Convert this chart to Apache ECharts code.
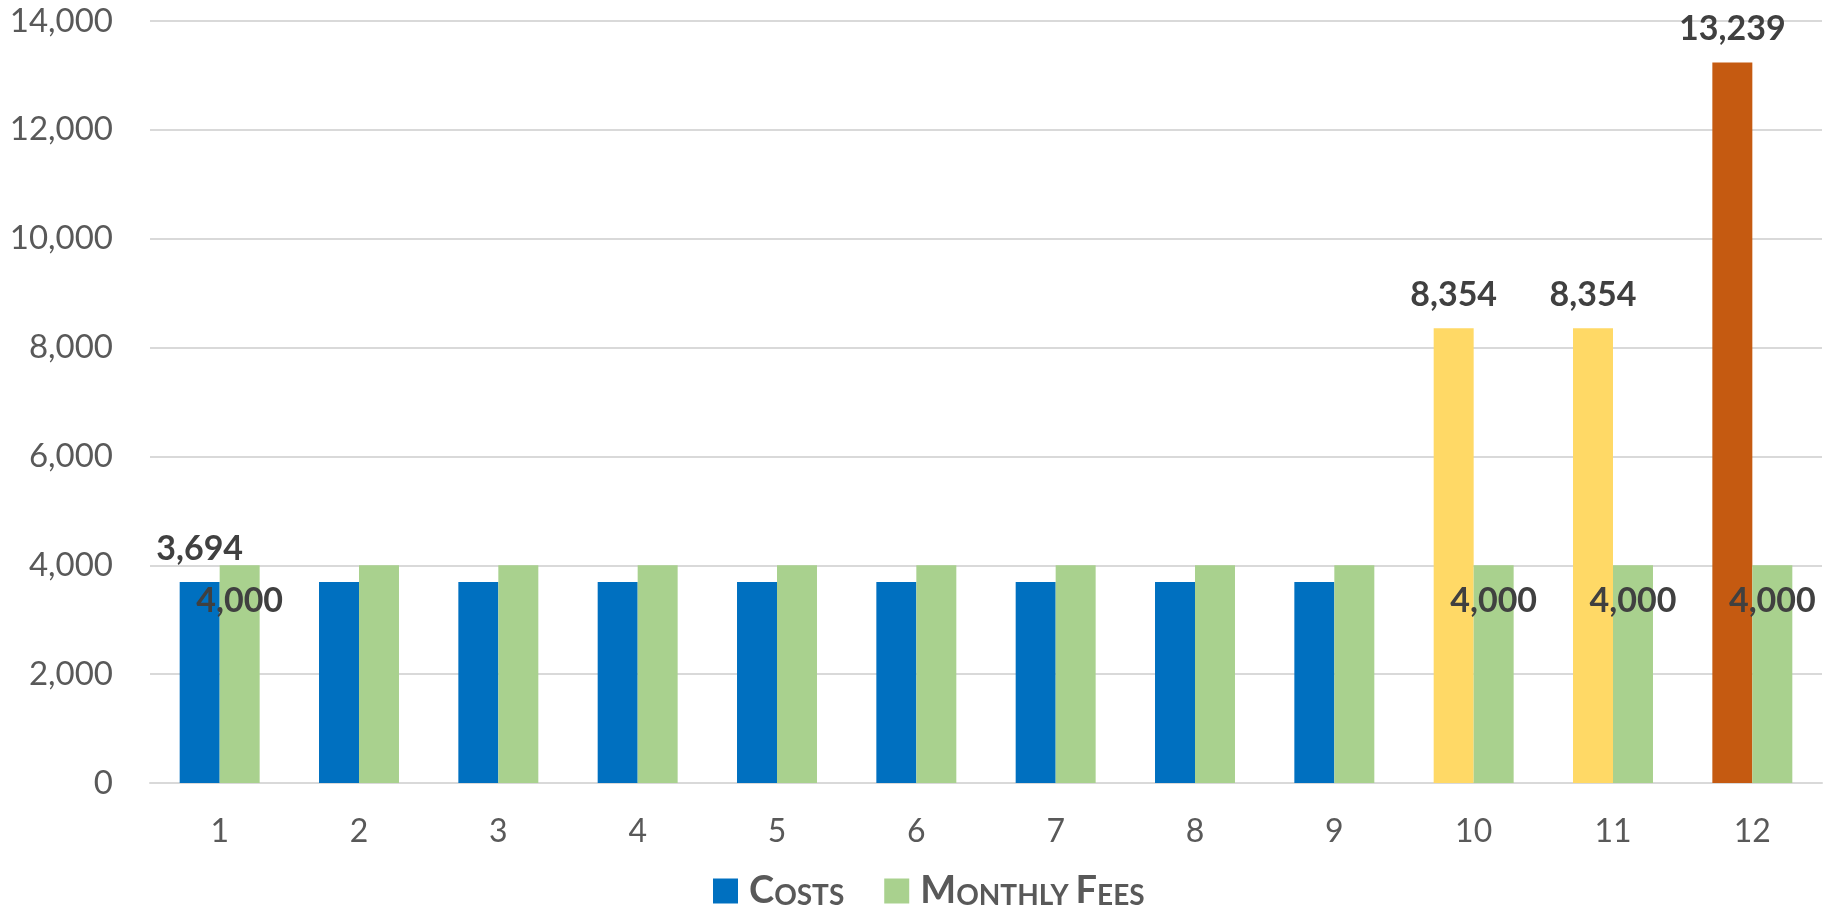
<!DOCTYPE html>
<html>
<head>
<meta charset="utf-8">
<script src="https://cdn.jsdelivr.net/npm/echarts@6/dist/echarts.min.js"></script>
<style>
html,body{margin:0;padding:0;background:#fff;}
#chart{width:1832px;height:923px;}
</style>
</head>
<body>
<div id="chart"></div>
<script>
const categories = ['1','2','3','4','5','6','7','8','9','10','11','12'];
const costs = [3694,3694,3694,3694,3694,3694,3694,3694,3694,8354,8354,13239];
const monthlyFees = [4000,4000,4000,4000,4000,4000,4000,4000,4000,4000,4000,4000];
const costColors = ['#0070C0','#0070C0','#0070C0','#0070C0','#0070C0','#0070C0','#0070C0','#0070C0','#0070C0','#FFD966','#FFD966','#C55A11'];
const labeledIdx = [0,9,10,11];
const yTicks = {min:0, max:14000, interval:2000};

const FONT = 'Lato';
const chart = echarts.init(document.getElementById('chart'), null, {renderer:'canvas'});

const costData = costs.map((v,i)=>({
  value:v,
  itemStyle:{color:costColors[i]},
  label:{show:labeledIdx.includes(i)}
}));
const feeData = monthlyFees.map((v,i)=>({
  value:v,
  label:{show:labeledIdx.includes(i)}
}));

const fmt = p => p.value.toLocaleString('en-US');

chart.setOption({
  animation:false,
  grid:{left:150,right:10,top:21,bottom:140,containLabel:false},
  legend:{
    bottom:8,
    left:708,
    itemWidth:25,itemHeight:25,itemGap:40,
    icon:'rect',
    formatter:name=>name.split(' ').map(w=>'{b|'+w[0]+'}{s|'+w.slice(1).toUpperCase()+'}').join('{s| }'),
    textStyle:{
      fontFamily:FONT,fontWeight:'bold',color:'#595959',
      padding:[0,0,0,6],
      rich:{
        b:{fontFamily:FONT,fontWeight:'bold',fontSize:38,color:'#595959'},
        s:{fontFamily:FONT,fontWeight:'bold',fontSize:28,color:'#595959',verticalAlign:'bottom'}
      }
    },
    data:['Costs','Monthly Fees']
  },
  xAxis:{
    type:'category',
    data:categories,
    axisLine:{lineStyle:{color:'#D9D9D9',width:2}},
    axisTick:{show:false},
    axisLabel:{fontFamily:FONT,fontSize:32,color:'#595959',margin:33}
  },
  yAxis:{
    type:'value',
    min:yTicks.min,max:yTicks.max,interval:yTicks.interval,
    axisLine:{show:false},
    axisTick:{show:false},
    splitLine:{lineStyle:{color:'#D9D9D9',width:2}},
    axisLabel:{fontFamily:FONT,fontSize:33,color:'#595959',margin:37,
      formatter:v=>v.toLocaleString('en-US')}
  },
  series:[
    {
      name:'Costs',type:'bar',data:costData,
      itemStyle:{color:'#0070C0'},
      barGap:'0%',barCategoryGap:'42.6%',
      label:{position:'top',distance:17,formatter:fmt,
        fontFamily:FONT,fontWeight:'bold',fontSize:34,lineHeight:32,color:'#404040'}
    },
    {
      name:'Monthly Fees',type:'bar',data:feeData,
      itemStyle:{color:'#A9D18E'},
      barGap:'0%',barCategoryGap:'42.6%',
      label:{position:'insideTop',distance:20,formatter:fmt,
        fontFamily:FONT,fontWeight:'bold',fontSize:34,lineHeight:32,color:'#404040'}
    }
  ]
});
</script>
</body>
</html>
